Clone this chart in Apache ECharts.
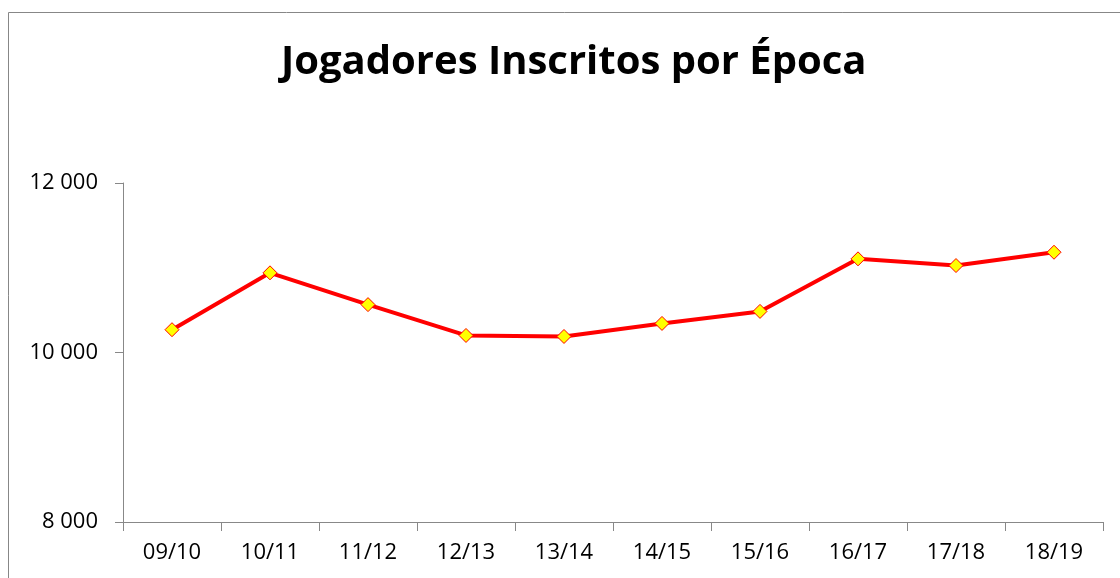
<!DOCTYPE html>
<html>
<head>
<meta charset="utf-8">
<script src="https://cdn.jsdelivr.net/npm/echarts@6/dist/echarts.min.js"></script>
<style>
    html, body { margin: 0; padding: 0; background: #fff; }
    #main { width: 1120px; height: 578px; }
</style>
</head>
<body>
<div id="main"></div>
<script>
// epocas e jogadores inscritos
var epocas = ['09/10', '10/11', '11/12', '12/13', '13/14', '14/15', '15/16', '16/17', '17/18', '18/19'];
var jogadores = [10269, 10940, 10565, 10201, 10189, 10343, 10485, 11105, 11026, 11183];
var yTicks = [8000, 10000, 12000];

var fonte = '"Open Sans", "Liberation Sans", sans-serif';

var option = {
    animation: false,
    backgroundColor: '#fff',
    title: {
        text: 'Jogadores Inscritos por Época',
        left: 276,
        top: 38,
        textStyle: { fontFamily: fonte, fontWeight: 'bold', fontSize: 40, color: '#000' }
    },
    graphic: [
        {
            type: 'rect',
            shape: { x: 8.5, y: 12.5, width: 1200, height: 700 },
            style: { fill: 'none', stroke: '#878787', lineWidth: 1 },
            silent: true
        }
    ],
    grid: { left: 123, right: 17, top: 183, bottom: 56 },
    xAxis: {
        type: 'category',
        data: epocas,
        boundaryGap: true,
        axisLine: { lineStyle: { color: '#888', width: 1 } },
        axisTick: { show: true, length: 9, lineStyle: { color: '#888' } },
        axisLabel: { fontFamily: fonte, fontSize: 22, color: '#000', margin: 20 }
    },
    yAxis: {
        type: 'value',
        min: yTicks[0],
        max: yTicks[yTicks.length - 1],
        interval: 2000,
        splitLine: { show: false },
        axisLine: { show: true, lineStyle: { color: '#888', width: 1 } },
        axisTick: { show: true, length: 8, lineStyle: { color: '#888' } },
        axisLabel: {
            fontFamily: fonte, fontSize: 22, color: '#000', margin: 25,
            formatter: function (v) { return String(v).replace(/\B(?=(\d{3})+(?!\d))/g, ' '); }
        }
    },
    series: [
        {
            type: 'line',
            data: jogadores,
            symbol: 'diamond',
            symbolSize: 14,
            lineStyle: { color: '#ff0000', width: 4 },
            itemStyle: { color: '#ffff00', borderColor: '#ff0000', borderWidth: 1 }
        }
    ]
};

var myChart = echarts.init(document.getElementById('main'));
myChart.setOption(option);
</script>
</body>
</html>
